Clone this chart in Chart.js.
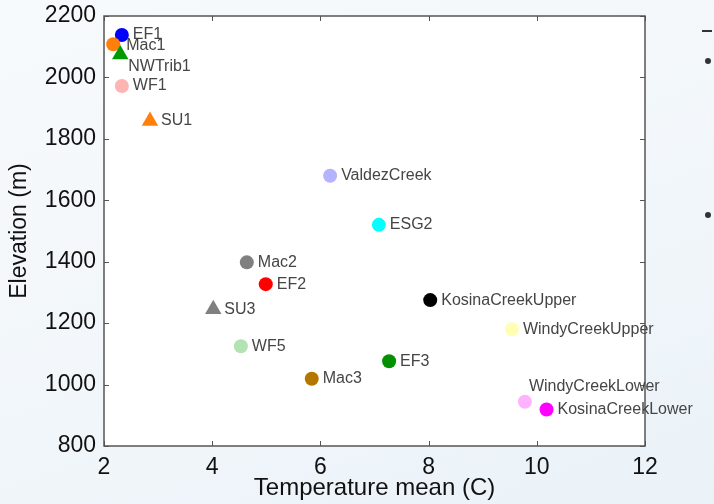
<!DOCTYPE html>
<html>
<head>
<meta charset="utf-8">
<script src="https://cdn.jsdelivr.net/npm/chart.js@4.4.1/dist/chart.umd.min.js"></script>
<style>
  html, body { margin: 0; padding: 0; }
  body {
    width: 714px; height: 504px; overflow: hidden;
    background: linear-gradient(160deg, #f7fafc 0%, #f1f6fa 60%, #eaf2f8 100%);
    position: relative;
  }
  #wrap { position: absolute; left: 0; top: 0; width: 714px; height: 504px; }
  .bullet { position: absolute; width: 6px; height: 6px; border-radius: 3px; background: #333; }
</style>
</head>
<body>
<div id="wrap"><canvas id="chart" width="714" height="504"></canvas></div>
<div class="bullet" style="left:705px; top:58px;"></div>
<div class="bullet" style="left:705px; top:212px;"></div>
<div style="position:absolute; left:702px; top:30px; width:10px; height:2px; background:#333;"></div>
<script>
// sites, in drawing order
const siteNames = ["EF1", "Mac1", "NWTrib1", "WF1", "SU1", "ValdezCreek", "ESG2", "Mac2", "EF2", "SU3",
  "WF5", "Mac3", "KosinaCreekUpper", "WindyCreekUpper", "EF3", "WindyCreekLower", "KosinaCreekLower"];
const tempMean = [2.33, 2.17, 2.30, 2.33, 2.85, 6.18, 7.08, 4.64, 4.99, 4.02,
  4.53, 5.84, 8.03, 9.54, 7.27, 9.78, 10.18];
const elevation = [2138, 2108, 2075, 1972, 1858, 1680, 1520, 1398, 1327, 1245,
  1125, 1019, 1275, 1180, 1076, 944, 919];
const siteColors = ["#0000ff", "#ff7f0a", "#009a00", "#ffb3b3", "#ff7f0a", "#b3b3ff", "#00ffff", "#808080", "#ff0000", "#808080",
  "#b3e3b3", "#b37700", "#000000", "#ffffb3", "#009000", "#ffb3ff", "#ff00ff"];
const siteShapes = ["circle", "circle", "triangle", "circle", "triangle", "circle", "circle", "circle", "circle", "triangle",
  "circle", "circle", "circle", "circle", "circle", "circle", "circle"];

const xTicks = [2, 4, 6, 8, 10, 12];
const yTicks = [800, 1000, 1200, 1400, 1600, 1800, 2000, 2200];

// where each name sits relative to its marker
const labelOffset = {
  "Mac1": [13, 1],
  "NWTrib1": [8, 12],
  "WindyCreekLower": [4, -15]
};

const font = "'Liberation Sans', Arial, sans-serif";

// white plot area, box and inward ticks on all four sides
const frame = {
  id: "frame",
  beforeDatasetsDraw(chart) {
    const { ctx, chartArea: a, scales: { x, y } } = chart;
    ctx.save();
    ctx.strokeStyle = "#555";
    ctx.lineWidth = 1.5;
    ctx.strokeRect(a.left, a.top, a.right - a.left, a.bottom - a.top);
    ctx.lineWidth = 1;
    ctx.beginPath();
    xTicks.forEach(v => {
      const px = Math.round(x.getPixelForValue(v)) + 0.5;
      ctx.moveTo(px, a.bottom); ctx.lineTo(px, a.bottom - 5);
      ctx.moveTo(px, a.top); ctx.lineTo(px, a.top + 5);
    });
    yTicks.forEach(v => {
      const py = Math.round(y.getPixelForValue(v)) + 0.5;
      ctx.moveTo(a.left, py); ctx.lineTo(a.left + 5, py);
      ctx.moveTo(a.right, py); ctx.lineTo(a.right - 5, py);
    });
    ctx.stroke();
    ctx.restore();
  },
  beforeDraw(chart) {
    const { ctx, chartArea: a } = chart;
    ctx.save();
    ctx.fillStyle = "#ffffff";
    ctx.fillRect(a.left, a.top, a.right - a.left, a.bottom - a.top);
    ctx.restore();
  }
};

// site names next to the markers
const siteLabels = {
  id: "siteLabels",
  afterDatasetsDraw(chart) {
    const { ctx } = chart;
    const meta = chart.getDatasetMeta(0);
    ctx.save();
    ctx.font = "16px " + font;
    ctx.fillStyle = "#454545";
    ctx.textBaseline = "middle";
    ctx.textAlign = "left";
    meta.data.forEach((pt, i) => {
      const name = siteNames[i];
      const off = labelOffset[name] || [11, 0];
      ctx.fillText(name, pt.x + off[0], pt.y + off[1]);
    });
    ctx.restore();
  }
};

new Chart(document.getElementById("chart"), {
  type: "scatter",
  data: {
    datasets: [{
      data: tempMean.map((t, i) => ({ x: t, y: elevation[i] })),
      backgroundColor: siteColors,
      borderColor: siteColors,
      borderWidth: 0,
      pointStyle: siteShapes,
      pointRadius: siteShapes.map(s => (s === "triangle" ? 9.5 : 7))
    }]
  },
  options: {
    responsive: false,
    animation: false,
    layout: { padding: { top: 16, right: 69, left: 0, bottom: 0 } },
    plugins: { legend: { display: false }, tooltip: { enabled: false } },
    scales: {
      x: {
        min: 2, max: 12,
        afterFit: s => { s.height = 58; },
        afterBuildTicks: s => { s.ticks = xTicks.map(v => ({ value: v })); },
        grid: { display: false },
        border: { display: false },
        ticks: { color: "#111", font: { family: font, size: 23 }, padding: 0,
          callback: v => String(v) },
        title: { display: true, text: "Temperature mean (C)", color: "#111",
          font: { family: font, size: 24 }, padding: { top: 0, bottom: 1 } }
      },
      y: {
        min: 800, max: 2200,
        afterFit: s => { s.width = 104; },
        afterBuildTicks: s => { s.ticks = yTicks.map(v => ({ value: v })); },
        grid: { display: false },
        border: { display: false },
        ticks: { color: "#111", font: { family: font, size: 23 }, padding: 0,
          callback: v => String(v) },
        title: { display: true, text: "Elevation (m)", color: "#111",
          font: { family: font, size: 23 }, padding: { top: 6, bottom: 0 } }
      }
    }
  },
  plugins: [frame, siteLabels]
});
</script>
</body>
</html>
